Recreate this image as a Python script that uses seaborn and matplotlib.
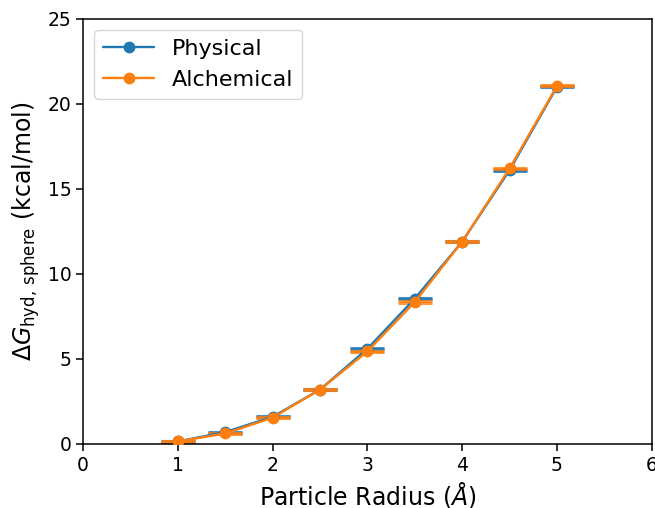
import matplotlib
matplotlib.use("Agg")
import matplotlib.pyplot as plt
import seaborn as sns
import pandas as pd
import numpy as np

radius = [1.0, 1.5, 2.0, 2.5, 3.0, 3.5, 4.0, 4.5, 5.0]
physical = [0.15, 0.70, 1.60, 3.20, 5.60, 8.55, 11.90, 16.10, 21.00]
alchemical = [0.15, 0.62, 1.55, 3.20, 5.45, 8.35, 11.90, 16.20, 21.05]
physical_err = [0.02, 0.03, 0.03, 0.03, 0.03, 0.04, 0.03, 0.03, 0.03]
alchemical_err = [0.02, 0.03, 0.03, 0.03, 0.03, 0.04, 0.03, 0.03, 0.03]
series_names = ["Physical", "Alchemical"]

sns.set_style("ticks", {"text.color": "black", "xtick.color": "black",
                        "ytick.color": "black", "axes.labelcolor": "black",
                        "axes.edgecolor": "black"})
plt.rcParams['font.family'] = ['DejaVu Sans']

df = pd.DataFrame({
    "radius": radius * 2,
    "dG": physical + alchemical,
    "err": physical_err + alchemical_err,
    "series": [series_names[0]] * len(radius) + [series_names[1]] * len(radius),
})

fig = plt.figure(figsize=(6.55, 5.08), dpi=100)
ax = fig.add_axes([0.127, 0.126, 0.868, 0.837])

colors = ["#1f77b4", "#ff7f0e"]
for name, c in zip(series_names, colors):
    sub = df[df.series == name]
    ax.errorbar(sub.radius, sub.dG, yerr=sub.err, fmt="none", ecolor=c,
                capsize=12, capthick=2.2, elinewidth=1.5, alpha=0.8, zorder=2)

sns.lineplot(data=df, x="radius", y="dG", hue="series", palette=colors,
             marker="o", markersize=8.5, markeredgewidth=0, linewidth=1.7,
             ax=ax, zorder=3)

ax.set_xlim(0, 6)
ax.set_ylim(0, 25)
ax.set_xticks([0, 1, 2, 3, 4, 5, 6])
ax.set_yticks([0, 5, 10, 15, 20, 25])
ax.tick_params(labelsize=13.5, length=5, width=1.1)
ax.set_xlabel(r"Particle Radius ($\AA$)", fontsize=17)
ax.set_ylabel(r"$\Delta G_{\mathrm{hyd,\,sphere}}$ (kcal/mol)", fontsize=17)
for s in ax.spines.values():
    s.set_linewidth(1.1)
ax.legend(title=None, fontsize=16, loc="upper left", handlelength=2.3)

fig.savefig("out.png", dpi=100)
